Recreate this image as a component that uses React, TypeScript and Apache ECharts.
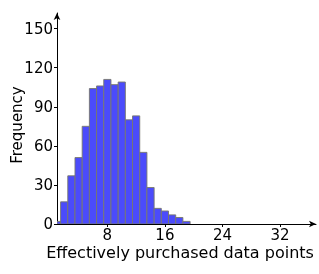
import React, { useEffect, useRef } from "react";
import * as echarts from "echarts";

const binCenters = [1, 2, 3, 4, 5, 6, 7, 8, 9, 10, 11, 12, 13, 14, 15, 16, 17, 18, 19];
const frequencies = [2, 17, 37, 51, 75, 104, 106, 111, 107, 109, 80, 83, 55, 28, 12, 10, 7, 5, 2];
const xTicks = [8, 16, 24, 32];
const yTicks = [0, 30, 60, 90, 120, 150];
const xTitle = "Effectively purchased data points";
const yTitle = "Frequency";

export default function App() {
  const ref = useRef<HTMLDivElement>(null);
  useEffect(() => {
    if (!ref.current) return;
    const chart = echarts.init(ref.current, null, { renderer: "svg" });
    const font = "DejaVu Sans";
    chart.setOption({
      animation: false,
      grid: { left: 57, right: 3, top: 13, bottom: 50, outerBoundsMode: "none", containLabel: false },
      xAxis: {
        type: "value",
        min: 1,
        max: 37,
        name: xTitle,
        nameLocation: "middle",
        nameGap: 20,
        nameMoveOverlap: false,
        nameTextStyle: { fontFamily: font, fontSize: 16, color: "#000", padding: [0, 13, 0, 0] },
        axisLine: { show: true, lineStyle: { color: "#000", width: 1 }, symbol: ["none", "arrow"], symbolSize: [5, 7] },
        axisTick: { show: true, length: 3, customValues: xTicks, lineStyle: { color: "#000" } },
        axisLabel: { customValues: xTicks, fontFamily: font, fontSize: 15, color: "#000", margin: 3 },
        splitLine: { show: false },
      },
      yAxis: {
        type: "value",
        min: 0,
        max: 162,
        name: yTitle,
        nameLocation: "middle",
        nameGap: 33,
        nameMoveOverlap: false,
        nameTextStyle: { fontFamily: font, fontSize: 15, color: "#000", padding: [0, 13, 0, 0] },
        axisLine: { show: true, lineStyle: { color: "#000", width: 1 }, symbol: ["none", "arrow"], symbolSize: [5, 7] },
        axisTick: { show: true, length: 3, customValues: yTicks, lineStyle: { color: "#000" } },
        axisLabel: { customValues: yTicks, fontFamily: font, fontSize: 15, color: "#000", margin: 4 },
        splitLine: { show: false },
      },
      series: [
        {
          type: "custom",
          clip: true,
          data: binCenters.map((c, i) => [c, frequencies[i]]),
          renderItem: (params: any, api: any) => {
            const c = api.value(0);
            const v = api.value(1);
            const p0 = api.coord([c - 0.5, 0]);
            const p1 = api.coord([c + 0.5, v]);
            const shape = echarts.graphic.clipRectByRect(
              { x: p0[0], y: p1[1], width: p1[0] - p0[0], height: p0[1] - p1[1] },
              params.coordSys
            );
            return {
              type: "rect",
              shape,
              style: { fill: "#4b4bfb", stroke: "rgba(120,120,110,0.9)", lineWidth: 1 },
            };
          },
        },
      ],
    });
    return () => chart.dispose();
  }, []);
  return <div ref={ref} style={{ position: "fixed", left: 0, top: 0, width: 319, height: 274 }} />;
}
